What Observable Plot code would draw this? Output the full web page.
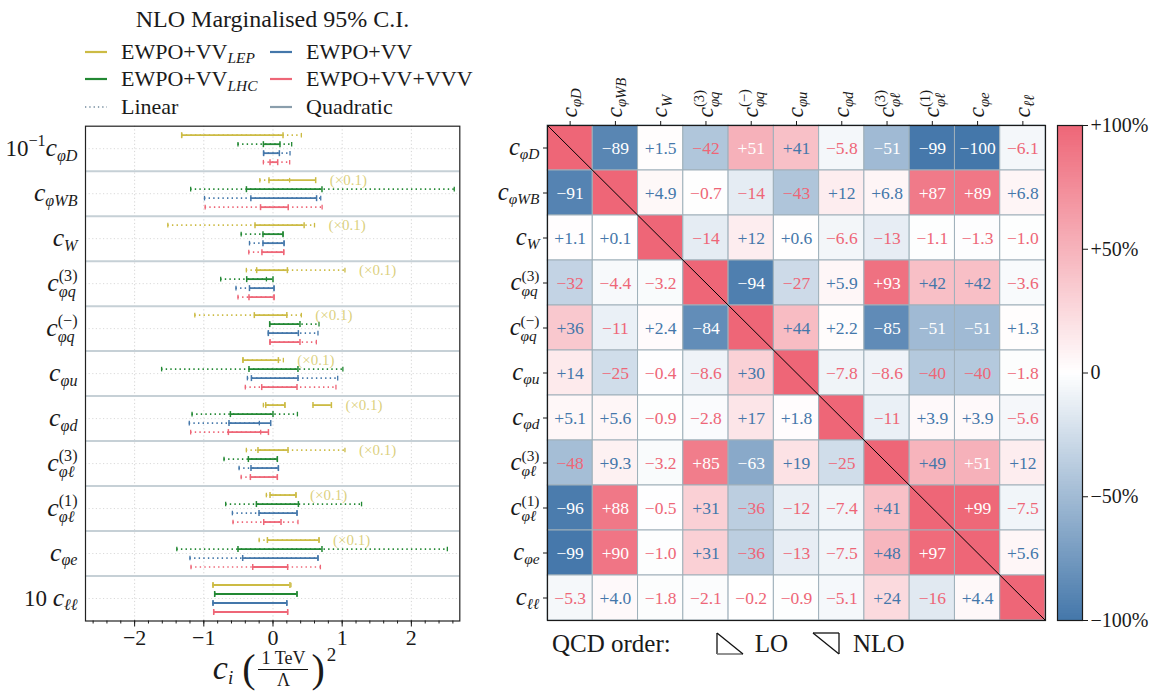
<!DOCTYPE html>
<html><head><meta charset="utf-8">
<script src="https://cdn.jsdelivr.net/npm/d3@7"></script>
<script src="https://cdn.jsdelivr.net/npm/@observablehq/plot@0.6"></script>
<style>
body{margin:0;background:#fff;}
#root{position:relative;width:1152px;height:693px;overflow:hidden;font-family:"Liberation Serif","DejaVu Serif",serif;color:#1a1a1a;}
.abs{position:absolute;}
.leg{position:absolute;font-size:22px;line-height:26px;white-space:nowrap;}
.sub{font-size:0.7em;font-style:italic;position:relative;top:0.3em;}
</style></head>
<body><div id="root"></div>
<script>
// ---------------- DATA ----------------
const coefLeft = ["10^{−1}c_{φD}","c_{φWB}","c_{W}","c_{φq}^{(3)}","c_{φq}^{(−)}","c_{φu}","c_{φd}","c_{φℓ}^{(3)}","c_{φℓ}^{(1)}","c_{φe}","10 c_{ℓℓ}"];
const coefNames = ["c_{φD}","c_{φWB}","c_{W}","c_{φq}^{(3)}","c_{φq}^{(−)}","c_{φu}","c_{φd}","c_{φℓ}^{(3)}","c_{φℓ}^{(1)}","c_{φe}","c_{ℓℓ}"];
const seriesKeys = ["LEP","LHC","VV","VVV"];
const seriesLabels = ["EWPO+VV_{LEP}","EWPO+VV_{LHC}","EWPO+VV","EWPO+VV+VVV"];
const seriesColors = ["#CCBB44","#228833","#4477AA","#EE6677"];

// 95% C.I. [lo, hi], linear fits (dotted)
const lepLinear = [[-1.32,0.41],[-0.19,0.24],[-1.52,0.60],[-0.385,1.04],[-1.13,0.41],[-0.434,0.15],[-0.139,0.17],[-0.385,1.04],[-0.096,0.332],[-0.2,0.665],[-0.867,0.26]];
const lhcLinear = [[-0.506,0.27],[-1.19,2.62],[-0.46,0.145],[-0.756,-0.095],[-0.048,0.665],[-1.61,1.01],[-1.17,0.353],[-0.708,0.063],[-0.684,1.28],[-1.39,2.52],[-0.843,0.347]];
const vvLinear  = [[-0.136,0.246],[-0.99,0.69],[-0.34,0.16],[-0.535,0.015],[-0.067,0.65],[-0.37,0.935],[-1.21,-0.197],[-0.49,0.078],[-0.587,0.347],[-1.2,0.65],[-0.867,0.2]];
const vvvLinear = [[-0.139,0.241],[-0.98,0.71],[-0.35,0.155],[-0.506,0.015],[-0.043,0.627],[-0.4,0.91],[-1.19,-0.178],[-0.46,0.063],[-0.578,0.361],[-1.185,0.685],[-0.857,0.212]];
// quadratic fits (solid)
const lepQuad = [[-1.32,0.145],[-0.058,0.617],[-0.26,0.45],[-0.236,0.208],[-0.27,0.20],[-0.434,0.078],[-0.105,0.173],[-0.217,0.217],[-0.043,0.332],[-0.081,0.665],[-0.867,0.245]];
const lepQuadExtra = [[6,0.578,0.844]]; // [row, lo, hi] second disjoint interval
const lhcQuad = [[-0.139,0.101],[-0.384,0.708],[-0.145,0.145],[-0.38,0.0],[-0.048,0.39],[-0.347,0.361],[-0.616,0.0],[-0.356,0.063],[-0.24,0.367],[-0.506,0.708],[-0.843,0.347]];
const vvQuad  = [[-0.136,0.092],[-0.32,0.63],[-0.145,0.16],[-0.34,0.015],[-0.067,0.367],[-0.312,0.361],[-0.636,-0.033],[-0.318,0.078],[-0.202,0.347],[-0.438,0.65],[-0.867,0.2]];
const vvvQuad = [[-0.043,0.068],[-0.18,0.22],[-0.16,0.155],[-0.347,0.015],[-0.043,0.39],[-0.163,0.347],[-0.645,-0.066],[-0.327,0.063],[-0.134,0.116],[-0.293,0.212],[-0.857,0.212]];
const lepScaledRows = [1,2,3,4,5,6,7,8,9]; // rows shown (×0.1)
const xMajorTicks = [-2,-1,0,1,2];

// correlation matrix (%), lower triangle LO, upper triangle NLO, diagonal = +100
const corr = [
 [100,-89,1.5,-42,51,41,-5.8,-51,-99,-100,-6.1],
 [-91,100,4.9,-0.7,-14,-43,12,6.8,87,89,6.8],
 [1.1,0.1,100,-14,12,0.6,-6.6,-13,-1.1,-1.3,-1.0],
 [-32,-4.4,-3.2,100,-94,-27,5.9,93,42,42,-3.6],
 [36,-11,2.4,-84,100,44,2.2,-85,-51,-51,1.3],
 [14,-25,-0.4,-8.6,30,100,-7.8,-8.6,-40,-40,-1.8],
 [5.1,5.6,-0.9,-2.8,17,1.8,100,-11,3.9,3.9,-5.6],
 [-48,9.3,-3.2,85,-63,19,-25,100,49,51,12],
 [-96,88,-0.5,31,-36,-12,-7.4,41,100,99,-7.5],
 [-99,90,-1.0,31,-36,-13,-7.5,48,97,100,5.6],
 [-5.3,4.0,-1.8,-2.1,-0.2,-0.9,-5.1,24,-16,4.4,100]
];
const cbarTicks = [-100,-50,0,50,100];

// ---------------- HELPERS ----------------
const FONT = '"Liberation Serif","DejaVu Serif",serif';
const NS = "http://www.w3.org/2000/svg";
const BLUE = "#4477AA", RED = "#EE6677";
function parseMath(s){
  const out=[]; let i=0;
  const isCmd=j=>(s[j]==="_"||s[j]==="^")&&s[j+1]==="{";
  while(i<s.length){
    if(isCmd(i)){const j=s.indexOf("}",i);out.push({kind:s[i]==="_"?"sub":"sup",text:s.slice(i+2,j)});i=j+1;}
    else{let j=i;while(j<s.length&&!isCmd(j))j++;out.push({kind:"base",text:s.slice(i,j)});i=j;}
  }
  return out;
}
function appendRuns(parent,text,fs,isBase){
  for(const m of text.matchAll(/([A-Za-zφℓ]+)|([^A-Za-zφℓ]+)/g)){
    const sp=document.createElementNS(NS,"tspan");
    if(m[1]){sp.setAttribute("font-style","italic"); if(isBase) sp.setAttribute("font-size",1.12*fs);}
    sp.textContent=m[0]; parent.appendChild(sp);
  }
}
function mathify(svg){
  svg.querySelectorAll("text").forEach(t=>{
    const s=t.textContent;
    if(!/[_^]\{/.test(s)) return;
    const fs=parseFloat(getComputedStyle(t).fontSize);
    const toks=parseMath(s);
    t.textContent="";
    let off=0, prev=null;
    toks.forEach((tok,k)=>{
      const g=document.createElementNS(NS,"tspan");
      let target=0;
      if(tok.kind==="sub"){target=(toks[k+1]&&toks[k+1].kind==="sup")?0.28*fs:0.2*fs;g.setAttribute("font-size",0.7*fs);}
      else if(tok.kind==="sup"){target=-0.42*fs;g.setAttribute("font-size",0.7*fs);}
      if(target-off!==0) g.setAttribute("dy",target-off);
      off=target;
      if(tok.kind==="sup"&&prev&&prev.kind==="sub") g.setAttribute("dx",-prev.width);
      appendRuns(g,tok.text,fs,tok.kind==="base");
      t.appendChild(g);
      tok.width=g.getComputedTextLength();
      prev=tok;
    });
  });
}
const root=document.getElementById("root");
function place(node,left,top){const d=document.createElement("div");d.className="abs";d.style.left=left+"px";d.style.top=top+"px";d.appendChild(node);root.appendChild(d);return d;}
const htmlMath=s=>s.replace(/_\{([^}]*)\}/g,'<span class="sub">$1</span>');

// ---------------- LEFT: intervals ----------------
const allLinear=[lepLinear,lhcLinear,vvLinear,vvvLinear];
const allQuad=[lepQuad,lhcQuad,vvQuad,vvvQuad];
const linRows=[], quadRows=[];
seriesKeys.forEach((s,k)=>{
  allLinear[k].forEach(([lo,hi],i)=>linRows.push({series:s,y:i+(k+1)/5,lo,hi}));
  allQuad[k].forEach(([lo,hi],i)=>quadRows.push({series:s,y:i+(k+1)/5,lo,hi}));
});
lepQuadExtra.forEach(([i,lo,hi])=>quadRows.push({series:"LEP",y:i+0.2,lo,hi}));
const capsOf=rows=>rows.flatMap(d=>[{series:d.series,y:d.y,x:d.lo},{series:d.series,y:d.y,x:d.hi}]);
const scaledLabels=lepScaledRows.map(i=>{
  const xs=[lepLinear[i][1],lepQuad[i][1],...lepQuadExtra.filter(e=>e[0]===i).map(e=>e[2])];
  return {x:d3.max(xs),y:i+0.2};
});
const nRows=coefLeft.length;
const rowCenters=d3.range(nRows).map(i=>i+0.5);
const rowSeps=d3.range(1,nRows);
const minorTicks=d3.range(-26,27,2).map(v=>v/10);
const capSymbol={draw(ctx,size){const r=Math.sqrt(size/Math.PI);ctx.moveTo(0,-r);ctx.lineTo(0,r);}};
const fmtTick=d=>d<0?"−"+(-d):String(d);

const left=Plot.plot({
  width:470,height:693,marginLeft:85,marginRight:10.7,marginTop:125.7,marginBottom:72.5,
  x:{domain:[-2.71,2.70],label:null},
  y:{domain:[0,nRows],reverse:true,label:null},
  color:{domain:seriesKeys,range:seriesColors},
  style:{fontFamily:FONT,color:"#1a1a1a",background:"transparent"},
  marks:[
    Plot.ruleX(xMajorTicks,{stroke:"#cfcfcf",strokeDasharray:"1.2,2.4",strokeWidth:0.9}),
    Plot.ruleY(rowCenters,{stroke:"#d6d6d6",strokeDasharray:"1.2,2.4",strokeWidth:0.9}),
    Plot.ruleY(rowSeps,{stroke:"#c6d0d6",strokeWidth:2}),
    Plot.ruleY(linRows,{y:"y",x1:"lo",x2:"hi",stroke:"series",strokeDasharray:"1.4,3.2",strokeWidth:1.7}),
    Plot.dot(capsOf(linRows),{x:"x",y:"y",r:2.3,symbol:capSymbol,stroke:"series",fill:"none",strokeWidth:1.3}),
    Plot.ruleY(quadRows,{y:"y",x1:"lo",x2:"hi",stroke:"series",strokeWidth:1.8}),
    Plot.dot(capsOf(quadRows),{x:"x",y:"y",r:3,symbol:capSymbol,stroke:"series",fill:"none",strokeWidth:1.5}),
    Plot.text(scaledLabels,{x:"x",y:"y",text:()=>"(×0.1)",dx:14,textAnchor:"start",fill:"#CCBB44",fillOpacity:0.7,fontSize:15}),
    Plot.frame({stroke:"#222",strokeWidth:1.2}),
    Plot.axisX({ticks:minorTicks,tickSize:3,tickFormat:()=>"",label:null}),
    Plot.axisX({ticks:xMajorTicks,tickSize:6,tickPadding:2,tickFormat:fmtTick,fontSize:22,label:null}),
    Plot.axisY({ticks:rowCenters,tickFormat:d=>coefLeft[Math.floor(d)],tickSize:0,tickPadding:8,fontSize:23,label:null})
  ]
});
place(left,0,0);
mathify(left);

// title & legend
const title=document.createElement("div");
title.style.cssText="width:545px;text-align:center;font-size:24px;line-height:28px;";
title.textContent="NLO Marginalised 95% C.I.";
place(title,0,5);
function legendEntry(x,y,color,dash,html){
  const d=document.createElement("div");d.className="leg";
  d.style.left=x+"px";d.style.top=(y-13)+"px";
  d.innerHTML=`<svg width="24" height="26" style="vertical-align:top"><line x1="1" x2="23" y1="13" y2="13" stroke="${color}" stroke-width="2.2" ${dash?'stroke-dasharray="1.3,3"':''}/></svg><span style="margin-left:13px">${html}</span>`;
  root.appendChild(d);
}
const legPos=[[84,51.7],[84,79.3],[269,51.7],[269,79.3]];
seriesKeys.forEach((s,k)=>legendEntry(legPos[k][0],legPos[k][1],seriesColors[k],false,htmlMath(seriesLabels[k])));
legendEntry(84,106.7,"#93a6b4",true,"Linear");
legendEntry(269,106.7,"#8a9eac",false,"Quadratic");

// x axis label
const xl=document.createElement("div");
xl.style.cssText="width:549px;height:46px;display:flex;align-items:center;justify-content:center;";
xl.innerHTML=`<span style="font-style:italic;font-size:34px;line-height:1;position:relative;top:-1px">c</span>`+
 `<span style="font-style:italic;font-size:19px;position:relative;top:9px;margin-right:9px">i</span>`+
 `<span style="font-size:40px;line-height:1">(</span>`+
 `<span style="display:inline-flex;flex-direction:column;align-items:center;font-size:18px;line-height:1.05;margin:0 3px">`+
 `<span style="border-bottom:1.8px solid #111;padding:0 3px 1px">1 TeV</span><span style="padding-top:1px">Λ</span></span>`+
 `<span style="font-size:40px;line-height:1">)</span>`+
 `<span style="font-size:19px;align-self:flex-start;position:relative;top:-2px;margin-left:2px">2</span>`;
place(xl,0,646);

// ---------------- RIGHT: correlation heatmap ----------------
const n=coefNames.length;
const centers=d3.range(n).map(i=>i+0.5);
const cells=corr.flatMap((row,r)=>row.map((v,c)=>({r,c,v})));
const off=cells.filter(d=>d.r!==d.c);
const fmtV=v=>(v>=0?"+":"−")+(Math.abs(v)<10?Math.abs(v).toFixed(1):String(Math.round(Math.abs(v))));
const colorScale={type:"linear",domain:[-100,0,100],range:[BLUE,"#ffffff",RED],interpolate:"rgb"};
const txt=(data,fill)=>Plot.text(data,{x:d=>d.c+0.5,y:d=>d.r+0.5,text:d=>fmtV(d.v),fill,fontSize:17.5});

const heat=Plot.plot({
  width:560,height:693,marginLeft:57,marginRight:5,marginTop:125,marginBottom:73,
  x:{domain:[0,n],label:null},
  y:{domain:[0,n],reverse:true,label:null},
  color:colorScale,
  style:{fontFamily:FONT,color:"#1a1a1a",background:"transparent"},
  marks:[
    Plot.rect(cells,{x1:"c",x2:d=>d.c+1,y1:"r",y2:d=>d.r+1,fill:"v",stroke:"#9fb0ba",strokeWidth:1}),
    Plot.link([n],{x1:0,y1:0,x2:d=>d,y2:d=>d,stroke:"#000",strokeWidth:1}),
    txt(off.filter(d=>Math.abs(d.v)>=50),"#ffffff"),
    txt(off.filter(d=>Math.abs(d.v)<50&&d.v>=0),BLUE),
    txt(off.filter(d=>Math.abs(d.v)<50&&d.v<0),RED),
    Plot.frame({stroke:"#1a1a1a",strokeWidth:1.2}),
    Plot.axisX({anchor:"top",ticks:centers,tickFormat:d=>coefNames[Math.floor(d)],tickRotate:-90,textAnchor:"start",lineAnchor:"middle",tickSize:5,tickPadding:3,fontSize:21,label:null}),
    Plot.axisY({anchor:"left",ticks:centers,tickFormat:d=>coefNames[Math.floor(d)],tickSize:4,tickPadding:4,fontSize:22,label:null})
  ]
});
place(heat,490,0);
mathify(heat);

// colorbar
const ramp=d3.range(-100,100,1);
const cbar=Plot.plot({
  width:102,height:693,marginLeft:7,marginRight:70,marginTop:125,marginBottom:73,
  x:{domain:[0,1],axis:null},
  y:{domain:[-100,100],label:null},
  color:colorScale,
  style:{fontFamily:FONT,color:"#1a1a1a",background:"transparent"},
  marks:[
    Plot.rect(ramp,{x1:0,x2:1,y1:d=>d,y2:d=>d+1,fill:d=>d+0.5,shapeRendering:"crispEdges"}),
    Plot.frame({stroke:"#1a1a1a",strokeWidth:1.2}),
    Plot.axisY({anchor:"right",ticks:cbarTicks,tickFormat:v=>v===0?"0":(v>0?"+":"−")+Math.abs(v)+"%",tickSize:5,tickPadding:3,fontSize:20,label:null})
  ]
});
place(cbar,1050,0);

// QCD order legend
const q=document.createElement("div");
q.style.cssText="font-size:25px;line-height:26px;white-space:nowrap;display:flex;align-items:center;";
q.innerHTML=`<span>QCD order:</span>`+
 `<svg width="28" height="24" style="margin-left:45px"><line x1="1" y1="1" x2="1" y2="22" stroke="#111" stroke-width="1.3"/><line x1="1" y1="22" x2="27" y2="22" stroke="#777" stroke-width="1.6"/><line x1="1" y1="1" x2="27" y2="22" stroke="#111" stroke-width="1.3"/></svg>`+
 `<span style="margin-left:11px">LO</span>`+
 `<svg width="28" height="24" style="margin-left:24px"><line x1="1" y1="1" x2="27" y2="1" stroke="#111" stroke-width="1.3"/><line x1="27" y1="1" x2="27" y2="22" stroke="#111" stroke-width="1.3"/><line x1="1" y1="1" x2="27" y2="22" stroke="#111" stroke-width="1.3"/></svg>`+
 `<span style="margin-left:13px">NLO</span>`;
place(q,552,631);
</script></body></html>
